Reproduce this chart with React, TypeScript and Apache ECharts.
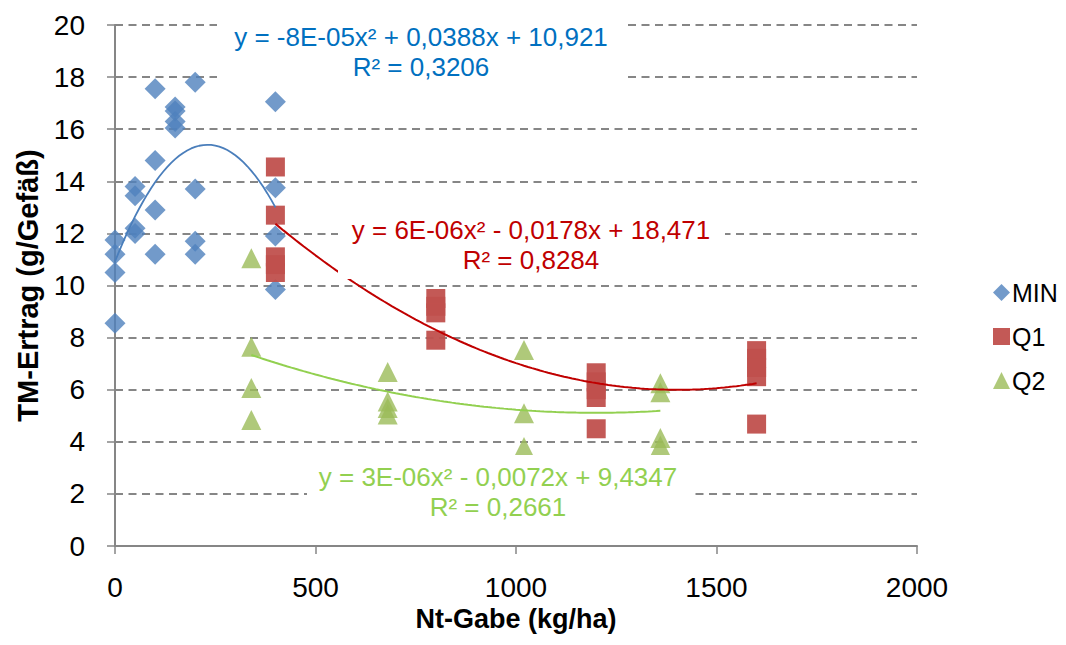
import React, { useEffect, useRef } from "react";
import * as echarts from "echarts";

// ---- data ----
const minX = [0, 0, 0, 0, 50, 50, 50, 50, 100, 100, 100, 100, 150, 150, 150, 150, 200, 200, 200, 200, 400, 400, 400, 400];
const minY = [11.75, 11.2, 10.5, 8.55, 13.8, 13.45, 12.2, 12.0, 17.55, 14.8, 12.9, 11.2, 16.85, 16.7, 16.3, 16.05, 17.8, 13.7, 11.7, 11.2, 17.05, 13.75, 11.9, 9.85];

const q1X = [400, 400, 400, 400, 400, 800, 800, 800, 800, 1200, 1200, 1200, 1200, 1200, 1600, 1600, 1600, 1600, 1600];
const q1Y = [14.55, 12.7, 11.1, 10.8, 10.5, 9.5, 9.2, 8.95, 7.9, 6.65, 6.3, 6.0, 5.7, 4.5, 7.5, 7.2, 6.85, 6.5, 4.68];

const q2X = [340, 340, 340, 340, 680, 680, 680, 680, 1020, 1020, 1020, 1360, 1360, 1360, 1360];
const q2Y = [11.05, 7.65, 6.07, 4.84, 6.68, 5.55, 5.3, 5.05, 7.52, 5.1, 3.8, 6.25, 5.9, 4.15, 3.85];

// polynomial trendlines (a, b, c) and their x ranges
const trendMin = [-8.4e-5, 0.0388, 10.921];
const trendMinRange = [0, 400];
const trendQ1 = [6.35e-6, -0.0178, 18.471];
const trendQ1Range = [400, 1600];
const trendQ2 = [3.0e-6, -0.0072, 9.4347];
const trendQ2Range = [340, 1360];

const eqMin = ["y = -8E-05x² + 0,0388x + 10,921", "R² = 0,3206"];
const eqQ1 = ["y = 6E-06x² - 0,0178x + 18,471", "R² = 0,8284"];
const eqQ2 = ["y = 3E-06x² - 0,0072x + 9,4347", "R² = 0,2661"];

const seriesNames = ["MIN", "Q1", "Q2"];
const xTicks = [0, 500, 1000, 1500, 2000];
const yTicks = [0, 2, 4, 6, 8, 10, 12, 14, 16, 18, 20];

const FONT = "'Liberation Sans', Arial, sans-serif";

function pairs(xs: number[], ys: number[]) {
  return xs.map((x, i) => [x, ys[i]]);
}

function curve(coef: number[], range: number[]) {
  const pts: number[][] = [];
  for (let x = range[0]; x <= range[1] + 1e-9; x += 10) {
    pts.push([x, coef[0] * x * x + coef[1] * x + coef[2]]);
  }
  return pts;
}

function eqLabel(lines: string[], color: string, cx: number, cy: number, box: number[]) {
  const txt = (t: string, y: number) => ({
    type: "text",
    x: cx,
    y,
    z: 101,
    style: {
      text: t,
      fill: color,
      font: `26px ${FONT}`,
      align: "center",
      verticalAlign: "middle",
      textAlign: "center",
      textVerticalAlign: "middle",
    },
  });
  return {
    type: "group",
    z: 100,
    children: [
      {
        type: "rect",
        shape: { x: box[0], y: box[1], width: box[2], height: box[3] },
        style: { fill: "#ffffff" },
        z: 100,
      },
      txt(lines[0], cy),
      txt(lines[1], cy + 30),
    ],
  };
}

export default function App() {
  const ref = useRef<HTMLDivElement>(null);

  useEffect(() => {
    if (!ref.current) return;
    const chart = echarts.init(ref.current, undefined, { renderer: "svg" });
    const gridColor = "#868686";
    const option: any = {
      animation: false,
      backgroundColor: "#ffffff",
      grid: { left: 115, right: 149, top: 25, bottom: 99, containLabel: false },
      legend: {
        orient: "vertical",
        left: 993,
        top: 280,
        padding: 0,
        itemWidth: 17,
        itemHeight: 17,
        itemGap: 19,
        data: seriesNames,
        textStyle: { fontFamily: FONT, fontSize: 25, color: "#000000", padding: [0, 0, 0, -3] },
      },
      xAxis: {
        type: "value",
        min: 0,
        max: 2000,
        interval: 500,
        name: "Nt-Gabe (kg/ha)",
        nameLocation: "middle",
        nameGap: 55,
        nameTextStyle: { fontFamily: FONT, fontSize: 27, fontWeight: "bold", color: "#000" },
        axisLine: { show: true, onZero: false, lineStyle: { color: gridColor, width: 2 } },
        axisTick: { show: true, inside: false, length: 8, lineStyle: { color: gridColor, width: 1.5 } },
        axisLabel: {
          margin: 27,
          fontFamily: FONT,
          fontSize: 28,
          color: "#000",
          formatter: (v: number) => (xTicks.includes(v) ? String(v) : ""),
        },
        splitLine: { show: false },
      },
      yAxis: {
        type: "value",
        min: 0,
        max: 20,
        interval: 2,
        name: "TM-Ertrag (g/Gefäß)",
        nameLocation: "middle",
        nameGap: 70,
        nameTextStyle: { fontFamily: FONT, fontSize: 29, fontWeight: "bold", color: "#000" },
        axisLine: { show: true, lineStyle: { color: gridColor, width: 2 } },
        axisTick: { show: true, inside: false, length: 8, lineStyle: { color: gridColor, width: 1.5 } },
        axisLabel: {
          margin: 30,
          fontFamily: FONT,
          fontSize: 28,
          color: "#000",
          formatter: (v: number) => (yTicks.includes(v) ? String(v) : ""),
        },
        splitLine: {
          show: true,
          lineStyle: { color: gridColor, width: 2, type: [8, 5.5] },
        },
      },
      series: [
        {
          name: "MIN",
          type: "scatter",
          symbol: "diamond",
          symbolSize: 21,
          itemStyle: { color: "#4F81BD" },
          data: pairs(minX, minY),
          z: 3,
        },
        {
          name: "Q1",
          type: "scatter",
          symbol: "rect",
          symbolSize: 19,
          itemStyle: { color: "#C0504D", opacity: 0.95 },
          data: pairs(q1X, q1Y),
          z: 3,
        },
        {
          name: "Q2",
          type: "scatter",
          symbol: "triangle",
          symbolSize: 20,
          itemStyle: { color: "#9BBB59" },
          data: pairs(q2X, q2Y),
          z: 3,
        },
        {
          name: "trendMIN",
          type: "line",
          showSymbol: false,
          symbol: "none",
          data: curve(trendMin, trendMinRange),
          lineStyle: { color: "#4A7EBB", width: 1.8 },
          z: 4,
          silent: true,
        },
        {
          name: "trendQ1",
          type: "line",
          showSymbol: false,
          symbol: "none",
          data: curve(trendQ1, trendQ1Range),
          lineStyle: { color: "#C00000", width: 2 },
          z: 4,
          silent: true,
        },
        {
          name: "trendQ2",
          type: "line",
          showSymbol: false,
          symbol: "none",
          data: curve(trendQ2, trendQ2Range),
          lineStyle: { color: "#92D050", width: 2 },
          z: 4,
          silent: true,
        },
      ],
      graphic: [
        eqLabel(eqMin, "#0070C0", 421, 37, [217, 14, 410, 76]),
        eqLabel(eqQ1, "#C00000", 531, 230, [338, 213, 387, 66]),
        eqLabel(eqQ2, "#92D050", 498, 477, [307, 455, 386, 68]),
      ],
    };
    chart.setOption(option);
    return () => chart.dispose();
  }, []);

  return (
    <div
      ref={ref}
      style={{ position: "fixed", left: 0, top: 0, width: 1066, height: 645, background: "#fff" }}
    />
  );
}
